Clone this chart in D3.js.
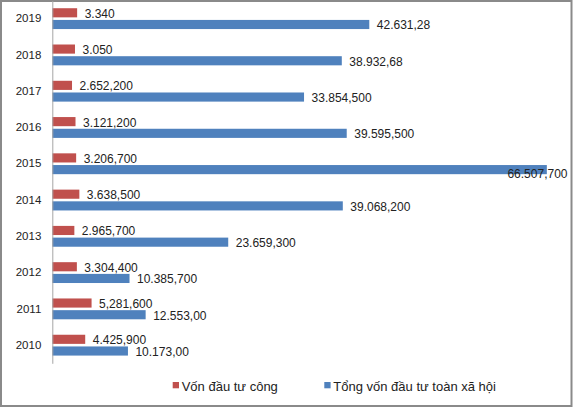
<!DOCTYPE html>
<html><head><meta charset="utf-8">
<script src="https://cdn.jsdelivr.net/npm/d3@7"></script>
<style>html,body{margin:0;padding:0;background:#fff;}svg{display:block;}</style>
</head><body>
<svg id="c" width="573" height="409"></svg>
<script>
const years = ["2010","2011","2012","2013","2014","2015","2016","2017","2018","2019"];
const seriesNames = ["Vốn đầu tư công", "Tổng vốn đầu tư toàn xã hội"];
const publicInvest = [4425.9, 5281.6, 3304.4, 2965.7, 3638.5, 3206.7, 3121.2, 2652.2, 3050, 3340];
const totalInvest = [10173, 12553, 10385.7, 23659.3, 39068.2, 66507.7, 39595.5, 33854.5, 38932.68, 42631.28];
const publicLabels = ["4.425,900","5,281,600","3.304,400","2.965,700","3.638,500","3.206,700","3.121,200","2.652,200","3.050","3.340"];
const totalLabels = ["10.173,00","12.553,00","10.385,700","23.659,300","39.068,200","66.507,700","39.595,500","33.854,500","38.932,68","42.631,28"];
const colors = ["#C0504D", "#4F81BD"];

const svg = d3.select("#c");
const font = "'Liberation Sans', Arial, sans-serif";
const textColor = "#222";

// frame
svg.append("rect").attr("x",1).attr("y",1).attr("width",570.5).attr("height",405)
  .attr("fill","#fff").attr("stroke","#8a8a8a").attr("stroke-width",2);

const x = d3.scaleLinear().domain([0, 70000]).range([52.3, 572.8]);
const y = d3.scaleBand().domain(years.slice().reverse()).range([0.5, 363.3]).padding(0);
const sub = d3.scaleBand().domain([0,1]).range([0, y.bandwidth()]).paddingInner(0.22).paddingOuter(0.66);

const rows = years.map((yr,i)=>({yr, vals:[publicInvest[i], totalInvest[i]], labels:[publicLabels[i], totalLabels[i]]}));

const g = svg.append("g");
rows.forEach(r=>{
  r.vals.forEach((v,s)=>{
    const by = y(r.yr) + sub(s);
    g.append("rect").attr("x", x(0)).attr("y", by)
      .attr("width", x(v)-x(0)).attr("height", sub.bandwidth())
      .attr("fill", colors[s]);
    const t = g.append("text").attr("x", x(v)+7.5).attr("y", by + sub.bandwidth()/2 + 1)
      .attr("dominant-baseline","central")
      .attr("font-family", font).attr("font-size", 12).attr("fill", textColor)
      .text(r.labels[s]);
    const w = t.node().getComputedTextLength();
    if (x(v)+7.5+w > 567.5) {
      t.attr("x", 567.5).attr("text-anchor","end").attr("y", by + sub.bandwidth()/2 + 4);
    }
  });
});

// axis
const yAxis = d3.axisLeft(y).tickSize(0).tickPadding(11);
const ax = svg.append("g").attr("transform",`translate(${x(0)},0)`).call(yAxis);
ax.select(".domain").attr("stroke","#a6a6a6").attr("stroke-width",1);
ax.selectAll("text").attr("font-family", font).attr("font-size", 11.5).attr("fill", textColor);

// legend
const legendX = [172.7, 324.3];
seriesNames.forEach((n,i)=>{
  svg.append("rect").attr("x", legendX[i]).attr("y", 382).attr("width",6.3).attr("height",6.3).attr("fill",colors[i]);
  svg.append("text").attr("x", legendX[i]+9).attr("y", 386).attr("dominant-baseline","central")
    .attr("font-family", font).attr("font-size", 13).attr("fill", textColor).text(n);
});
</script>
</body></html>
